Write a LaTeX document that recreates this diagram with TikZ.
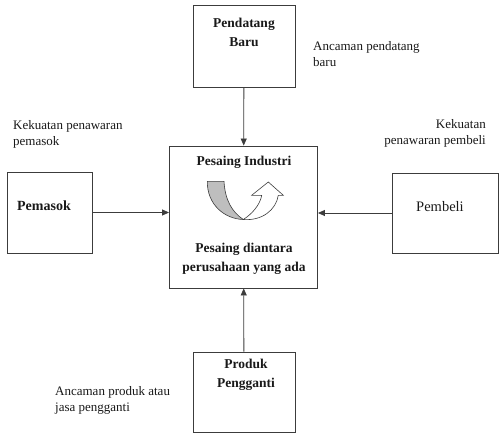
\documentclass[tikz,border=0pt]{standalone}
\usepackage{fontspec}
\setmainfont{Liberation Serif}
\usepackage{xcolor}
\usepackage{tikz}
\usetikzlibrary{positioning, arrows.meta}
\definecolor{LineGrey}{RGB}{60,60,60}
\definecolor{TextGrey}{RGB}{25,25,25}
\definecolor{UturnGrey}{RGB}{190,190,190}
\tikzset{
  force/.style={draw=LineGrey, line width=0.9pt, fill=white, inner sep=0pt},
  boxtext/.style={font=\fontsize{13.5}{19}\selectfont\bfseries, align=center, text=TextGrey, inner sep=0pt},
  plaintext/.style={font=\fontsize{14.5}{18}\selectfont, text=TextGrey, inner sep=0pt},
  note/.style={font=\fontsize{13}{16.5}\selectfont, text=TextGrey, inner sep=0pt, align=left},
  link/.style={-{Triangle[length=7pt,width=6pt]}, line width=0.8pt, LineGrey},
}

\begin{document}
\begin{tikzpicture}[x=1pt,y=-1pt]
  \useasboundingbox[fill=white] (0,0) rectangle (500,441);
  % the five forces
  \node[force, minimum width=148pt, minimum height=142pt] (ind) at (243.5,217) {};
  \node[force, minimum width=102pt, minimum height=82pt] (baru) at (244,46) {};
  \node[force, minimum width=102pt, minimum height=80pt] (produk) at (244,392) {};
  \node[force, minimum width=85pt, minimum height=81pt] (pemasok) at (49.5,212.5) {};
  \node[force, minimum width=106pt, minimum height=80pt] (pembeli) at (445,213) {};
  % texts inside the boxes
  \node[boxtext] (baruT) at (244,32) {Pendatang\\Baru};
  \node[boxtext] (produkT) at (246,375) {Produk\\Pengganti};
  \node[boxtext, font=\fontsize{14}{19}\selectfont\bfseries] (pemasokT) at (44,206) {Pemasok};
  \node[plaintext] (pembeliT) at (440,207) {Pembeli};
  \node[boxtext] (indT) at (244,162) {Pesaing Industri};
  \node[boxtext] (indB) at (244,259) {Pesaing diantara\\perusahaan yang ada};
  % notes beside the boxes
  \node[note, anchor=north west] (nBaru) at (313,41) {Ancaman pendatang\\baru};
  \node[note, anchor=north west] (nPemasok) at (13,120) {Kekuatan penawaran\\pemasok};
  \node[note, anchor=north east, align=right] (nPembeli) at (486,119) {Kekuatan\\penawaran pembeli};
  \node[note, anchor=north west] (nProduk) at (55,386) {Ancaman produk atau\\jasa pengganti};
  % u-turn arrow
  \filldraw[fill=UturnGrey, draw=LineGrey, line width=0.6pt] (207.3,181.3) -- (224,181.3)
    .. controls (225,200) and (232,212) .. (243.3,219.5)
    .. controls (225,219) and (207,205) .. cycle;
  \filldraw[fill=white, draw=LineGrey, line width=0.6pt] (243.3,219.5)
    .. controls (252,214) and (260,205) .. (261.7,195.3) -- (251.7,195.3) -- (268.3,182)
    -- (283.3,195.3) -- (278.3,195.3) .. controls (276,210) and (262,221) .. cycle;
  % arrows into the centre
  \foreach \s in {baru,produk}
    \draw[link] (\s) -- (ind);
  \draw[link] (pemasok.east) -- (pemasok.east -| ind.west);
  \draw[link] (pembeli.west) -- (pembeli.west -| ind.east);
\end{tikzpicture}
\end{document}
